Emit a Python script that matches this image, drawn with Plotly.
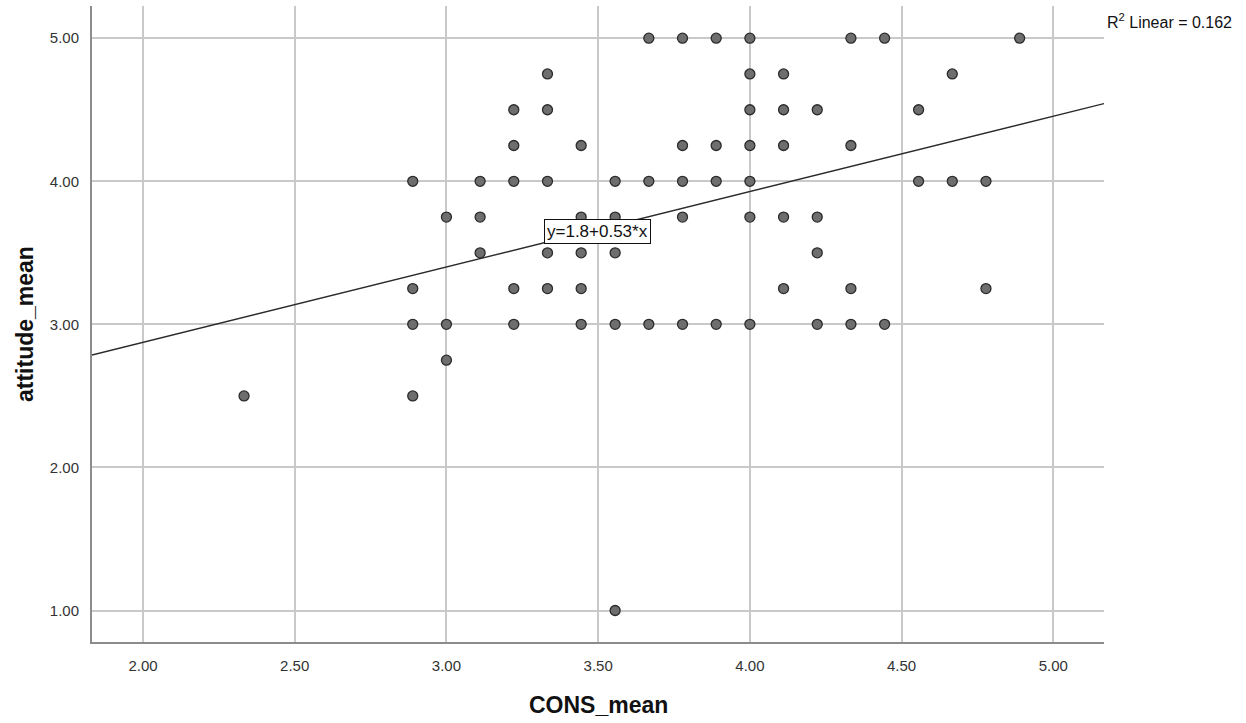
import plotly.graph_objects as go

# ---- data ----
cons_mean = [
    2.333,
    2.889, 2.889, 2.889, 2.889,
    3.000, 3.000, 3.000,
    3.111, 3.111, 3.111,
    3.222, 3.222, 3.222, 3.222, 3.222,
    3.333, 3.333, 3.333, 3.333, 3.333,
    3.444, 3.444, 3.444, 3.444, 3.444,
    3.556, 3.556, 3.556, 3.556, 3.556,
    3.667, 3.667, 3.667,
    3.778, 3.778, 3.778, 3.778, 3.778,
    3.889, 3.889, 3.889, 3.889,
    4.000, 4.000, 4.000, 4.000, 4.000, 4.000, 4.000,
    4.111, 4.111, 4.111, 4.111, 4.111,
    4.222, 4.222, 4.222, 4.222,
    4.333, 4.333, 4.333, 4.333,
    4.444, 4.444,
    4.556, 4.556,
    4.667, 4.667,
    4.778, 4.778,
    4.889,
]
attitude_mean = [
    2.50,
    4.00, 3.25, 3.00, 2.50,
    3.75, 3.00, 2.75,
    4.00, 3.75, 3.50,
    4.50, 4.25, 4.00, 3.25, 3.00,
    4.75, 4.50, 4.00, 3.50, 3.25,
    4.25, 3.75, 3.50, 3.25, 3.00,
    4.00, 3.75, 3.50, 3.00, 1.00,
    5.00, 4.00, 3.00,
    5.00, 4.25, 4.00, 3.75, 3.00,
    5.00, 4.25, 4.00, 3.00,
    5.00, 4.75, 4.50, 4.25, 4.00, 3.75, 3.00,
    4.75, 4.50, 4.25, 3.75, 3.25,
    4.50, 3.75, 3.50, 3.00,
    5.00, 4.25, 3.25, 3.00,
    5.00, 3.00,
    4.50, 4.00,
    4.75, 4.00,
    4.00, 3.25,
    5.00,
]

fit_intercept = 1.82
fit_slope = 0.527
fit_label = "y=1.8+0.53*x"
r2_label = "R<sup>2</sup> Linear = 0.162"

x_range = [1.832, 5.167]
y_range = [0.78, 5.225]
x_ticks = [2.0, 2.5, 3.0, 3.5, 4.0, 4.5, 5.0]
y_ticks = [1.0, 2.0, 3.0, 4.0, 5.0]

FONT = "Arial, 'Liberation Sans', Helvetica, sans-serif"

fig = go.Figure()

line_x = [x_range[0], x_range[1]]
line_y = [fit_intercept + fit_slope * v for v in line_x]
fig.add_trace(go.Scatter(
    x=line_x, y=line_y, mode="lines",
    line=dict(color="#2a2a2a", width=1.4),
    hoverinfo="skip", showlegend=False,
))

fig.add_trace(go.Scatter(
    x=cons_mean, y=attitude_mean, mode="markers",
    marker=dict(size=10, color="#6e6e6e", line=dict(color="#2b2b2b", width=1.3)),
    showlegend=False,
))

fig.update_layout(
    width=1246, height=723,
    margin=dict(l=92, r=142, t=6, b=81),
    paper_bgcolor="white", plot_bgcolor="white",
    font=dict(family=FONT, color="#333333", size=15),
    xaxis=dict(
        range=x_range, tickvals=x_ticks, tickformat=".2f",
        showgrid=True, gridcolor="#c9c9c9", gridwidth=1.5,
        showline=True, linecolor="#8c8c8c", linewidth=2,
        zeroline=False, ticks="", ticklabelstandoff=9,
        tickfont=dict(size=15, color="#333333"),
    ),
    yaxis=dict(
        range=y_range, tickvals=y_ticks, tickformat=".2f",
        showgrid=True, gridcolor="#c9c9c9", gridwidth=1.5,
        showline=True, linecolor="#8c8c8c", linewidth=2,
        zeroline=False, ticks="", ticklabelstandoff=8,
        tickfont=dict(size=15, color="#333333"),
    ),
    annotations=[
        dict(text="CONS_mean", xref="paper", yref="paper", x=0.5, y=0,
             xanchor="center", yanchor="middle", yshift=-63, showarrow=False,
             font=dict(size=23, color="#111111", family=FONT, weight="bold")),
        dict(text="attitude_mean", xref="paper", yref="paper", x=0, y=0.5,
             xanchor="center", yanchor="middle", xshift=-67, textangle=-90,
             showarrow=False,
             font=dict(size=23, color="#111111", family=FONT, weight="bold")),
        dict(text=r2_label, xref="paper", yref="paper", x=1, y=1,
             xanchor="left", yanchor="middle", xshift=1, yshift=-15,
             showarrow=False, font=dict(size=16, color="#111111", family=FONT)),
        dict(text=fit_label, xref="x", yref="y", x=3.499, y=3.647,
             xanchor="center", yanchor="middle", showarrow=False,
             bgcolor="white", bordercolor="#111111", borderwidth=1, borderpad=2,
             font=dict(size=17, color="#111111", family=FONT)),
    ],
)

fig.write_html("out.html")
